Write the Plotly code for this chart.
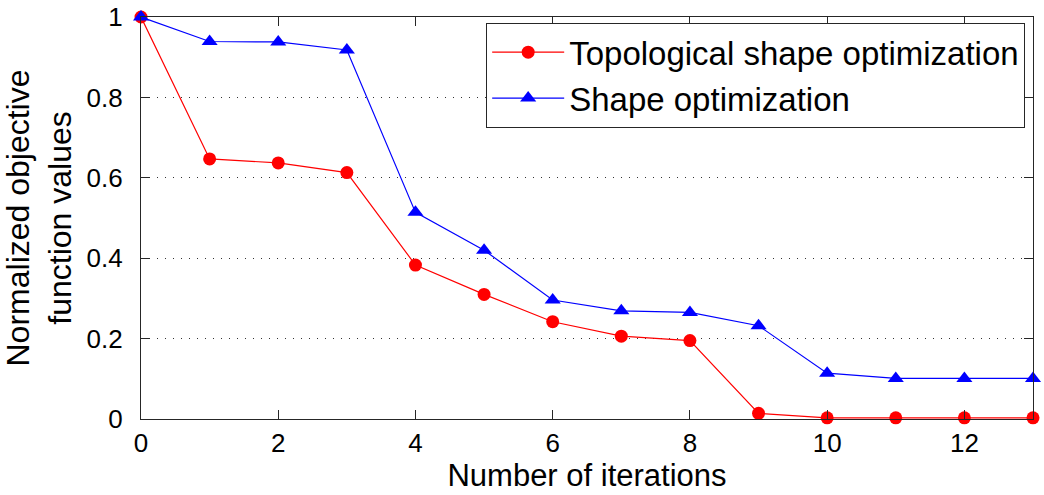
import plotly.graph_objects as go

iterations = list(range(14))
topological = [1.0, 0.647, 0.637, 0.613, 0.383, 0.310, 0.242, 0.206, 0.195, 0.014, 0.003, 0.003, 0.003, 0.003]
shape_opt = [1.0, 0.939, 0.938, 0.918, 0.514, 0.420, 0.296, 0.269, 0.265, 0.232, 0.114, 0.101, 0.101, 0.101]

x_ticks = [0, 2, 4, 6, 8, 10, 12]
y_ticks = [0, 0.2, 0.4, 0.6, 0.8, 1]
y_tick_text = ["0", "0.2", "0.4", "0.6", "0.8", "1"]

FONT = "Liberation Sans, Arial, Helvetica, sans-serif"

fig = go.Figure()
fig.add_trace(go.Scatter(
    x=iterations, y=topological, name="Topological shape optimization",
    mode="lines+markers", cliponaxis=False,
    line=dict(color="#ff0000", width=1.2),
    marker=dict(symbol="circle", size=13, color="#ff0000"),
))
fig.add_trace(go.Scatter(
    x=iterations, y=shape_opt, name="Shape optimization",
    mode="lines+markers", cliponaxis=False,
    line=dict(color="#0000ff", width=1.2),
    marker=dict(symbol="triangle-up", size=14, color="#0000ff"),
))

axis_common = dict(
    showline=True, linecolor="#262626", linewidth=1.2, mirror="ticks",
    ticks="inside", ticklen=9, tickwidth=1, tickcolor="#262626",
    tickfont=dict(family=FONT, size=26, color="black"),
    zeroline=False, automargin=False,
)

fig.update_xaxes(
    range=[0, 13], tickvals=x_ticks, showgrid=False,
    title=dict(text="Number of iterations", font=dict(family=FONT, size=31, color="black"), standoff=6),
    ticklabelstandoff=1,
    **axis_common,
)
fig.update_yaxes(
    range=[0, 1], tickvals=y_ticks, ticktext=y_tick_text,
    showgrid=True, gridcolor="#333333", gridwidth=1, griddash="1px,7px",
    title=dict(text="Normalized objective<br>function values", font=dict(family=FONT, size=32, color="black"), standoff=12),
    ticklabelstandoff=12,
    **axis_common,
)

fig.update_layout(
    width=1044, height=495,
    margin=dict(l=141, r=11, t=17, b=76),
    paper_bgcolor="white", plot_bgcolor="white",
    font=dict(family=FONT, color="black"),
    legend=dict(
        x=0.991, y=0.985, xanchor="right", yanchor="top",
        bgcolor="white", bordercolor="#262626", borderwidth=1.2,
        font=dict(family=FONT, size=33, color="black"),
        itemwidth=72, tracegroupgap=0,
    ),
)

fig.write_html("out.html")
